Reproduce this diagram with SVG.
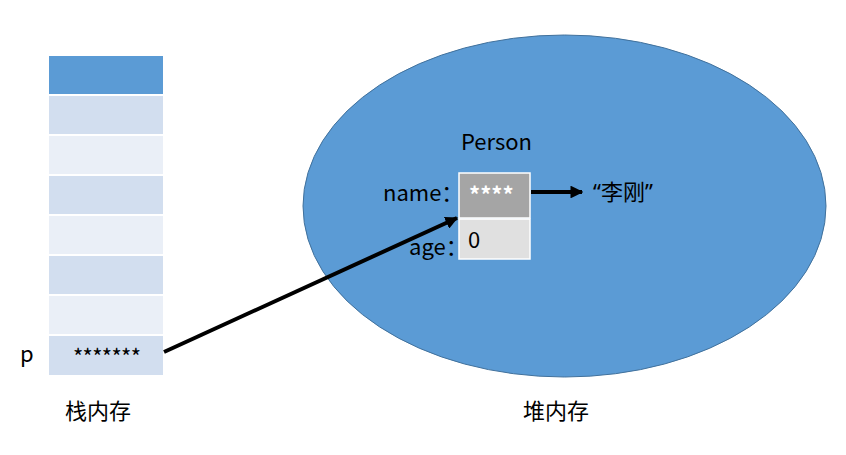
<svg xmlns="http://www.w3.org/2000/svg" width="846" height="455" viewBox="0 0 846 455">
<style>
text{font-family:"Noto Sans CJK SC","Noto Sans",sans-serif;font-size:22px;fill:#000}
.q{font-family:"Noto Sans",sans-serif}
.d{fill:#d2deef}.l{fill:#eaeff7}
</style>
<defs>
<marker id="ah" viewBox="0 0 10 10" refX="9" refY="5" markerWidth="3.2" markerHeight="3.2" orient="auto" markerUnits="strokeWidth">
<path d="M0,0 L10,5 L0,10 z" fill="#000"/>
</marker>
</defs>
<rect width="846" height="455" fill="#fff"/>
<g id="stack">
<rect x="49" y="56" width="114" height="38" fill="#5b9bd5"/>
<rect class="d" x="49" y="96" width="114" height="38"/>
<rect class="l" x="49" y="136" width="114" height="38"/>
<rect class="d" x="49" y="176" width="114" height="38"/>
<rect class="l" x="49" y="216" width="114" height="38"/>
<rect class="d" x="49" y="256" width="114" height="38"/>
<rect class="l" x="49" y="296" width="114" height="38"/>
<rect class="d" x="49" y="336" width="114" height="39"/>
<text x="107" y="365" text-anchor="middle" textLength="68" lengthAdjust="spacing">*******</text>
<text x="20" y="362">p</text>
<text x="65" y="419">栈内存</text>
</g>
<g id="heap">
<ellipse cx="564.5" cy="206" rx="261.5" ry="171" fill="#5b9bd5" stroke="#41719c" stroke-width="1"/>
<text x="523" y="419">堆内存</text>
</g>
<g id="person">
<text x="461" y="150">Person</text>
<rect x="459" y="173" width="71" height="45" fill="#a5a5a5" stroke="#fff" stroke-width="1.5"/>
<rect x="459" y="219" width="71" height="40" fill="#e0e0e0" stroke="#fff" stroke-width="1.5"/>
<text x="383" y="201">name：</text>
<text x="409" y="255">age：</text>
<text x="469" y="203" style="fill:#fff;font-weight:bold">****</text>
<text x="468" y="248">0</text>
</g>
<g id="value">
<text x="593" y="200"><tspan class="q">“</tspan>李刚<tspan class="q">”</tspan></text>
</g>
<g id="connectors" stroke="#000" stroke-width="4" fill="none">
<line x1="164" y1="352" x2="457" y2="218" marker-end="url(#ah)"/>
<line x1="531" y1="192" x2="582" y2="192" marker-end="url(#ah)"/>
</g>
</svg>
